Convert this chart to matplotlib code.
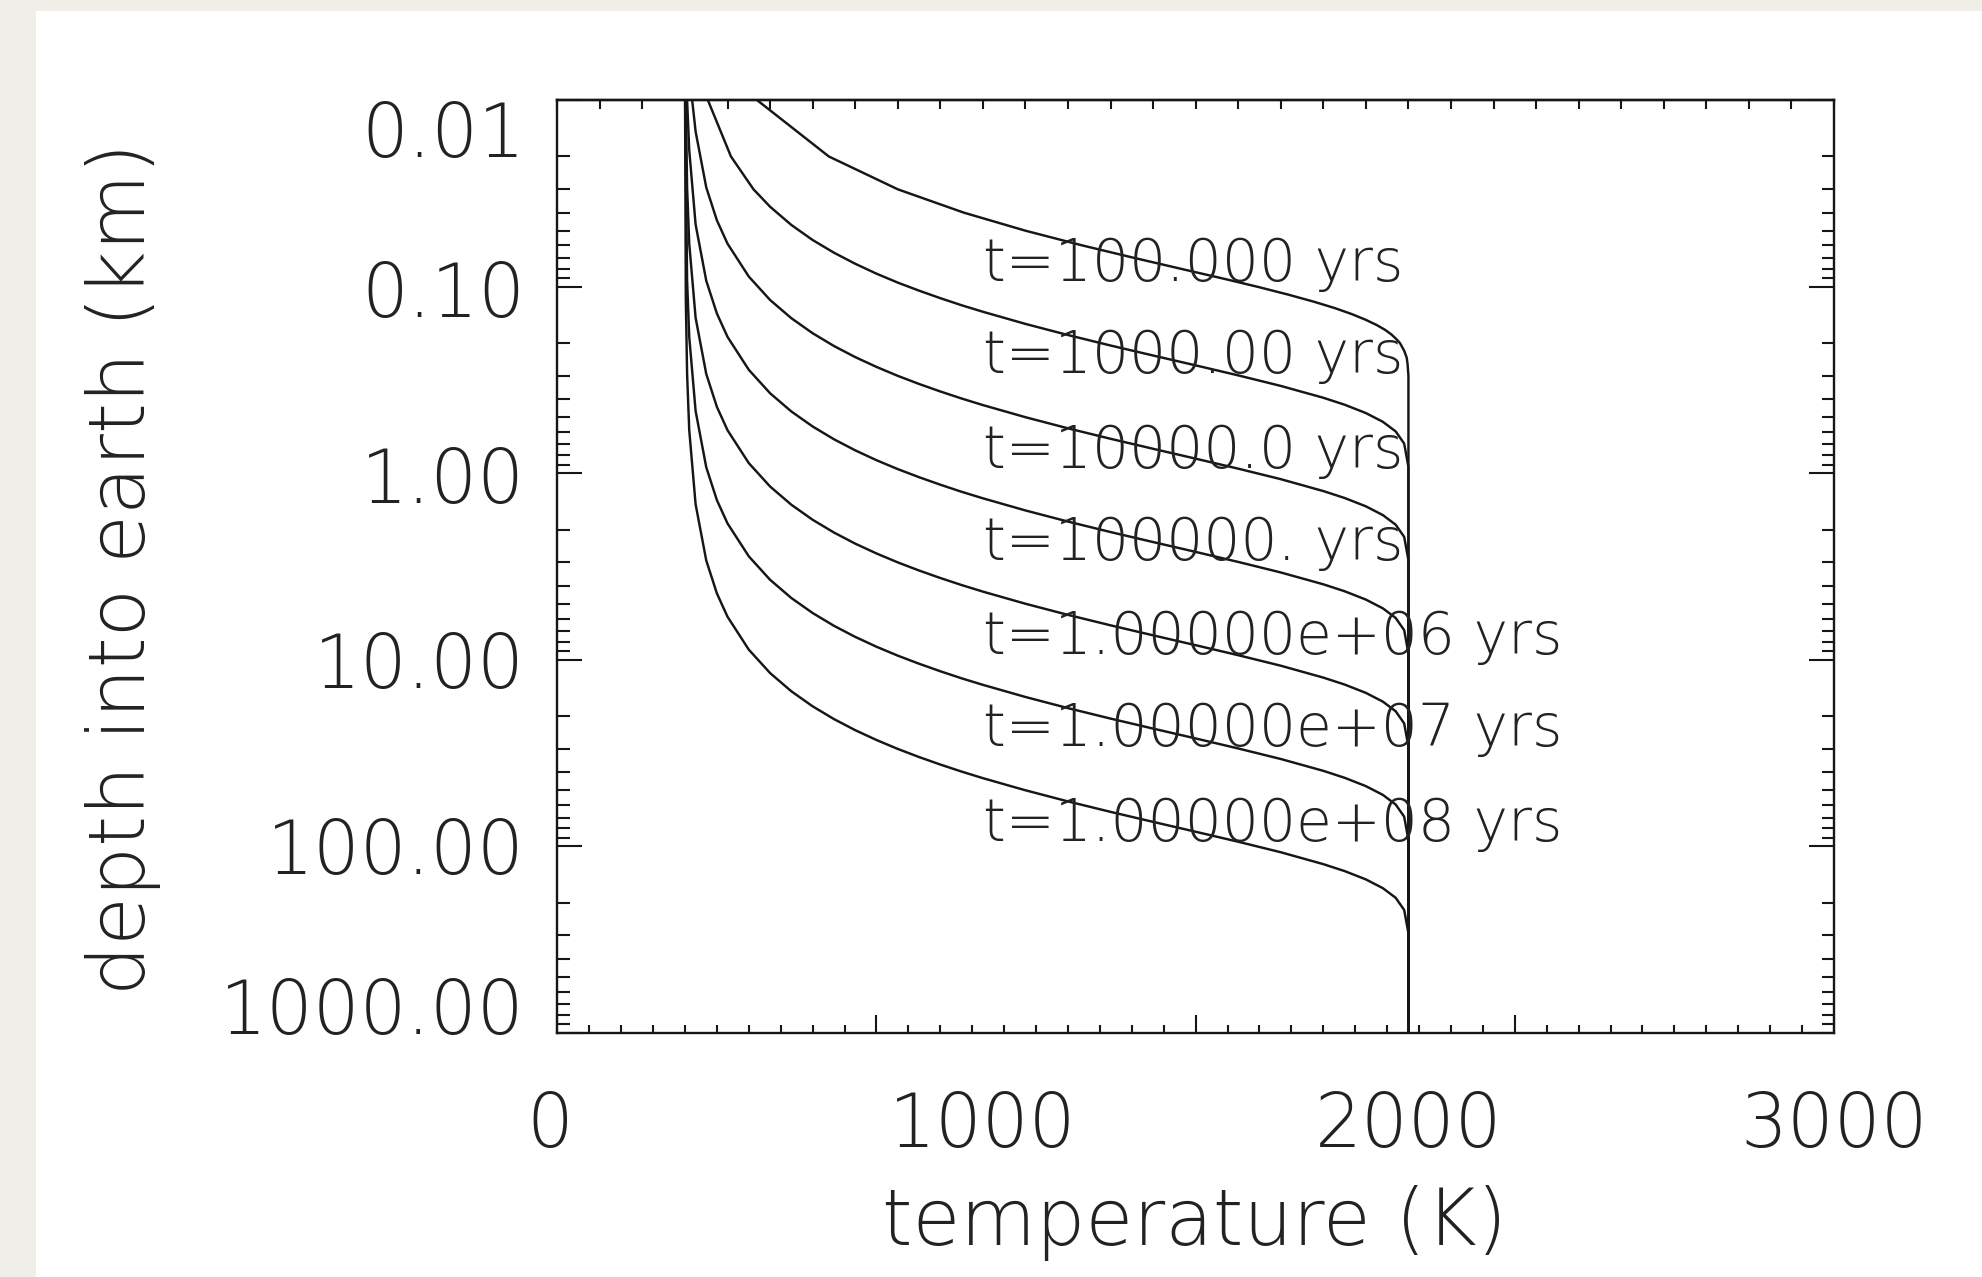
import numpy as np
import matplotlib
matplotlib.use("Agg")
import matplotlib.pyplot as plt
import matplotlib.patches as mpatches
from matplotlib.transforms import blended_transform_factory, ScaledTranslation
from matplotlib.ticker import FixedLocator, NullFormatter, LogLocator

plt.rcParams['font.family'] = ['DejaVu Sans']

# ---------------- data ----------------
depth_1 = [0.01, 0.02, 0.03, 0.04, 0.05, 0.06, 0.07, 0.08, 0.09, 0.10, 0.11, 0.12, 0.13, 0.14,
           0.15, 0.16, 0.17, 0.18, 0.19, 0.20, 0.22, 0.24, 0.26, 0.30, 1000]
temp_1 = [470, 638, 800, 955, 1100, 1234, 1356, 1465, 1562, 1646, 1717, 1777, 1827, 1867,
          1899, 1925, 1945, 1960, 1971, 1980, 1990, 1996, 1998, 2000, 2000]

depth_2 = [0.01, 0.02, 0.03, 0.0372, 0.0466, 0.0561, 0.0656, 0.0752, 0.0850, 0.0949,
           0.1048, 0.1150, 0.1255, 0.1360, 0.1580, 0.1813, 0.2063, 0.2334, 0.2636, 0.2983,
           0.3397, 0.3932, 0.4284, 0.4749, 0.5292, 0.5957, 0.6923, 0.924, 1000]
temp_2 = [354, 408, 461, 500, 550, 600, 650, 700, 750, 800,
          850, 900, 950, 1000, 1100, 1200, 1300, 1400, 1500, 1600,
          1700, 1800, 1850, 1900, 1940, 1970, 1990, 2000, 2000]

depth_3 = [0.01, 0.0147, 0.0293, 0.0440, 0.0587, 0.0881, 0.1176, 0.1473, 0.1773, 0.2075,
           0.2380, 0.2687, 0.3000, 0.3316, 0.3638, 0.3968, 0.4303, 0.4998, 0.5735, 0.6524,
           0.7382, 0.8338, 0.9434, 1.074, 1.244, 1.355, 1.502, 1.674, 1.884, 2.190,
           2.922, 1000]
temp_3 = [317, 325, 350, 375, 400, 450, 500, 550, 600, 650,
          700, 750, 800, 850, 900, 950, 1000, 1100, 1200, 1300,
          1400, 1500, 1600, 1700, 1800, 1850, 1900, 1940, 1970, 1990,
          2000, 2000]

depth_4 = [0.01, 0.0185, 0.0463, 0.0927, 0.139, 0.1855, 0.2785, 0.3719, 0.4658, 0.5605,
           0.6561, 0.7524, 0.8498, 0.9486, 1.048, 1.150, 1.255, 1.360, 1.580, 1.813,
           2.063, 2.334, 2.636, 2.983, 3.397, 3.932, 4.284, 4.749, 5.292, 5.957,
           6.923, 9.24, 1000]
temp_4 = [305, 310, 325, 350, 375, 400, 450, 500, 550, 600,
          650, 700, 750, 800, 850, 900, 950, 1000, 1100, 1200,
          1300, 1400, 1500, 1600, 1700, 1800, 1850, 1900, 1940, 1970,
          1990, 2000, 2000]

depth_5 = [0.01, 0.0293, 0.0586, 0.1465, 0.293, 0.440, 0.587, 0.881, 1.176, 1.473,
           1.773, 2.075, 2.380, 2.687, 3.000, 3.316, 3.638, 3.968, 4.303, 4.998,
           5.735, 6.524, 7.382, 8.338, 9.434, 10.74, 12.44, 13.55, 15.02, 16.74,
           18.84, 21.90, 29.22, 1000]
temp_5 = [302, 305, 310, 325, 350, 375, 400, 450, 500, 550,
          600, 650, 700, 750, 800, 850, 900, 950, 1000, 1100,
          1200, 1300, 1400, 1500, 1600, 1700, 1800, 1850, 1900, 1940,
          1970, 1990, 2000, 2000]

depth_6 = [0.01, 0.0927, 0.1853, 0.463, 0.927, 1.391, 1.855, 2.785, 3.719, 4.658,
           5.605, 6.561, 7.524, 8.498, 9.486, 10.48, 11.50, 12.55, 13.60, 15.80,
           18.13, 20.63, 23.34, 26.36, 29.83, 33.97, 39.32, 42.84, 47.49, 52.92,
           59.57, 69.23, 92.4, 1000]
temp_6 = [300.5, 305, 310, 325, 350, 375, 400, 450, 500, 550,
          600, 650, 700, 750, 800, 850, 900, 950, 1000, 1100,
          1200, 1300, 1400, 1500, 1600, 1700, 1800, 1850, 1900, 1940,
          1970, 1990, 2000, 2000]

depth_7 = [0.01, 0.117, 0.293, 0.586, 1.465, 2.93, 4.40, 5.87, 8.81, 11.76,
           14.73, 17.73, 20.75, 23.80, 26.87, 30.00, 33.16, 36.38, 39.68, 43.03,
           49.98, 57.35, 65.24, 73.82, 83.38, 94.34, 107.4, 124.4, 135.5, 150.2,
           167.4, 188.4, 219.0, 292.2, 1000]
temp_7 = [300.2, 302, 305, 310, 325, 350, 375, 400, 450, 500,
          550, 600, 650, 700, 750, 800, 850, 900, 950, 1000,
          1100, 1200, 1300, 1400, 1500, 1600, 1700, 1800, 1850, 1900,
          1940, 1970, 1990, 2000, 2000]

curve_labels = ["t=100.000 yrs", "t=1000.00 yrs", "t=10000.0 yrs", "t=100000. yrs",
                "t=1.00000e+06 yrs", "t=1.00000e+07 yrs", "t=1.00000e+08 yrs"]
label_depths = [0.093, 0.29, 0.93, 2.9, 9.3, 29, 93]
label_temp = 1000

x_tick_values = [0, 1000, 2000, 3000]
x_tick_labels = ["0", "1000", "2000", "3000"]
y_tick_values = [0.01, 0.1, 1, 10, 100, 1000]
y_tick_labels = ["0.01", "0.10", "1.00", "10.00", "100.00", "1000.00"]

# ---------------- figure ----------------
W, H = 1982, 1277
DPI = 100
fig = plt.figure(figsize=(W / DPI, H / DPI), dpi=DPI, facecolor='#efeee9')
fig.patches.append(mpatches.Rectangle((36 / W, 0), 1 - 36 / W, 1 - 11 / H,
                                      transform=fig.transFigure, facecolor='white',
                                      edgecolor='none', zorder=-5))

ax_l, ax_r, ax_t, ax_b = 557.3, 1834.0, 100.3, 1033.0
ax = fig.add_axes([ax_l / W, 1 - ax_b / H, (ax_r - ax_l) / W, (ax_b - ax_t) / H])
ax.set_facecolor('white')

ink = '#161616'
txt = '#222222'
lw_curve = 1.75
curves = [(temp_1, depth_1), (temp_2, depth_2), (temp_3, depth_3), (temp_4, depth_4),
          (temp_5, depth_5), (temp_6, depth_6), (temp_7, depth_7)]
for t, d in curves:
    ax.plot(t, d, color=ink, lw=lw_curve, solid_joinstyle='round')

ax.set_xlim(0, 3000)
ax.set_yscale('log')
ax.set_ylim(1000, 0.01)

for s in ax.spines.values():
    s.set_linewidth(1.7)
    s.set_color(ink)

# x ticks (bottom)
ax.xaxis.set_major_locator(FixedLocator(np.arange(0, 3001, 750)))
ax.xaxis.set_minor_locator(FixedLocator(np.arange(0, 3001, 75)))
ax.xaxis.set_major_formatter(NullFormatter())
ax.xaxis.set_minor_formatter(NullFormatter())
ax.tick_params(axis='x', which='major', direction='in', length=12.7, width=1.5,
               color=ink, top=False, bottom=True)
ax.tick_params(axis='x', which='minor', direction='in', length=6.0, width=1.5,
               color=ink, top=False, bottom=True)

# y ticks
ax.yaxis.set_major_locator(LogLocator(base=10, numticks=20))
ax.yaxis.set_minor_locator(LogLocator(base=10, subs=np.arange(2, 10), numticks=100))
ax.yaxis.set_major_formatter(NullFormatter())
ax.yaxis.set_minor_formatter(NullFormatter())
ax.tick_params(axis='y', which='major', direction='in', length=18, width=1.5,
               color=ink, left=True, right=True)
ax.tick_params(axis='y', which='minor', direction='in', length=9, width=1.5,
               color=ink, left=True, right=True)

# top axis ticks
sec = ax.secondary_xaxis('top')
sec.set_xticks(np.arange(0, 3001, 100))
sec.xaxis.set_major_formatter(NullFormatter())
sec.tick_params(direction='in', length=6.5, width=1.5, color=ink)
sec.spines['top'].set_linewidth(1.7)
sec.spines['top'].set_color(ink)

FW = 'light'
# tick labels (placed by hand like IDL)
tick_fs = 53
yt = blended_transform_factory(ax.transAxes, ax.transData)
y_offsets_px = [57, 30, 30, 28, 28, 1]
for v, lab, off in zip(y_tick_values, y_tick_labels, y_offsets_px):
    tr = yt + ScaledTranslation(0, -off / DPI, fig.dpi_scale_trans)
    ax.text((525 - ax_l) / (ax_r - ax_l), v, lab, transform=tr, ha='right', va='baseline',
            fontsize=tick_fs, fontweight=FW, color=txt, clip_on=False)

xt = blended_transform_factory(ax.transData, ax.transAxes)
x_nudge_px = [-7, 0, 0, 0]
for v, lab, nx in zip(x_tick_values, x_tick_labels, x_nudge_px):
    tr = xt + ScaledTranslation(nx / DPI, -(1147 - ax_b) / DPI, fig.dpi_scale_trans)
    ax.text(v, 0, lab, transform=tr, ha='center', va='baseline',
            fontsize=tick_fs, fontweight=FW, color=txt, clip_on=False)

# axis titles
fig.text(1194 / W, 1 - 1245 / H, "temperature (K)", ha='center', va='baseline',
         fontsize=56, fontweight=FW, color=txt)
fig.text(123 / W, 1 - 569 / H, "depth into earth (km)", ha='center', va='center',
         rotation=90, fontsize=57, fontweight=FW, color=txt)

# curve labels
for lab, d in zip(curve_labels, label_depths):
    ax.text(label_temp, d, lab, ha='left', va='baseline', fontsize=42,
            fontweight=FW, color=txt)

fig.savefig('out.png', dpi=DPI, facecolor=fig.get_facecolor())
